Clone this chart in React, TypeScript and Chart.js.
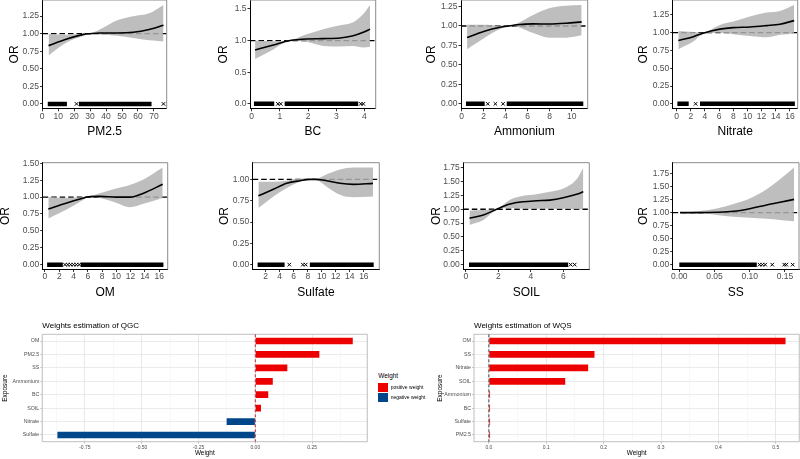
import React, { useEffect, useRef } from "react";
import { Chart, registerables } from "chart.js";
Chart.register(...registerables);

const FONT = "'Liberation Sans', Arial, Helvetica, sans-serif";
const BAND = "rgba(178,178,178,0.84)";
const RED = "#ED0000";
const BLUE = "#00468B";

// ---------------- spline panels: data ----------------
const pm25X = [4, 15, 26, 30, 36, 47, 57, 67, 76];
const pm25OR = [0.83, 0.92, 0.99, 1.0, 1.01, 1.01, 1.02, 1.06, 1.12];
const pm25Up = [1.0, 0.985, 1.0, 1.005, 1.06, 1.19, 1.25, 1.29, 1.41];
const pm25Lo = [0.69, 0.87, 0.97, 0.995, 0.99, 0.97, 0.94, 0.905, 0.89];
const pm25RugSeg = [[3.5, 15.5], [23, 68.5]];
const pm25RugPts = [21.5, 76];
const pm25XTicks = [0, 10, 20, 30, 40, 50, 60, 70];
const pm25YTicks = [0, 0.25, 0.5, 0.75, 1, 1.25];

const bcX = [0.12, 0.77, 1.36, 1.95, 2.54, 3.14, 3.6, 3.96, 4.2];
const bcOR = [0.85, 0.93, 1.0, 1.025, 1.03, 1.04, 1.075, 1.13, 1.18];
const bcUp = [0.995, 0.99, 1.005, 1.1, 1.18, 1.24, 1.29, 1.42, 1.56];
const bcLo = [0.71, 0.86, 0.995, 0.98, 0.915, 0.905, 0.915, 0.89, 0.9];
const bcRugSeg = [[0.08, 0.8], [1.17, 3.78]];
const bcRugPts = [0.93, 1.03, 3.87, 3.96];
const bcXTicks = [0, 1, 2, 3, 4];
const bcYTicks = [0, 0.5, 1, 1.5];

const amX = [0.5, 2.0, 3.5, 4.4, 5.0, 6.5, 8.0, 9.5, 10.9];
const amOR = [0.852, 0.93, 0.985, 1.003, 1.015, 1.027, 1.025, 1.035, 1.053];
const amUp = [1.015, 1.015, 1.005, 1.006, 1.03, 1.14, 1.23, 1.26, 1.27];
const amLo = [0.7, 0.84, 0.96, 1.0, 0.99, 0.91, 0.85, 0.85, 0.88];
const amRugSeg = [[0.4, 2.1], [4.1, 11.05]];
const amRugPts = [2.38, 3.07, 3.77];
const amXTicks = [0, 2, 4, 6, 8, 10];
const amYTicks = [0, 0.25, 0.5, 0.75, 1, 1.25];

const niX = [0.24, 2.35, 3.6, 6.1, 8, 10.35, 12.7, 14.6, 16.6];
const niOR = [0.89, 0.944, 0.99, 1.05, 1.072, 1.08, 1.1, 1.12, 1.17];
const niUp = [1.025, 1.01, 1.0, 1.11, 1.156, 1.227, 1.283, 1.306, 1.39];
const niLo = [0.768, 0.875, 0.98, 1.0, 0.98, 0.955, 0.936, 0.97, 0.99];
const niRugSeg = [[0.1, 1.7], [3.3, 16.7]];
const niRugPts = [2.68];
const niXTicks = [0, 2, 4, 6, 8, 10, 12, 14, 16];
const niYTicks = [0, 0.25, 0.5, 0.75, 1, 1.25];

const omX = [0.47, 3.04, 5.4, 6.1, 7.7, 10.06, 11.9, 13.8, 16.5];
const omOR = [0.825, 0.913, 0.985, 1.005, 1.01, 1.0, 1.0, 1.058, 1.19];
const omUp = [1.0, 0.985, 1.0, 1.01, 1.058, 1.13, 1.18, 1.26, 1.437];
const omLo = [0.684, 0.815, 0.96, 1.0, 0.985, 0.913, 0.85, 0.9, 0.985];
const omRugSeg = [[0.3, 2.5], [5.0, 16.6]];
const omRugPts = [2.8, 3.2, 3.6, 4.0, 4.4, 4.8];
const omXTicks = [0, 2, 4, 6, 8, 10, 12, 14, 16];
const omYTicks = [0, 0.25, 0.5, 0.75, 1, 1.25, 1.5];

const suX = [0.96, 3.1, 5.0, 6.9, 8.3, 9.0, 10.7, 12.6, 14.5, 17.3];
const suOR = [0.807, 0.884, 0.954, 0.985, 1.0, 1.0, 0.985, 0.954, 0.942, 0.954];
const suUp = [0.973, 0.973, 0.985, 1.01, 1.005, 1.002, 1.06, 1.116, 1.139, 1.139];
const suLo = [0.664, 0.8, 0.9, 0.973, 0.995, 0.998, 0.915, 0.819, 0.79, 0.8];
const suRugSeg = [[0.85, 4.7], [8.3, 17.4]];
const suRugPts = [5.37, 7.3, 7.7];
const suXTicks = [2, 4, 6, 8, 10, 12, 14, 16];
const suYTicks = [0, 0.25, 0.5, 0.75, 1];

const soX = [0.23, 1.09, 1.9, 2.72, 3.54, 4.36, 5.18, 6.0, 6.82, 7.23];
const soOR = [0.836, 0.896, 1.0, 1.093, 1.135, 1.153, 1.165, 1.207, 1.27, 1.314];
const soUp = [0.974, 0.986, 1.005, 1.17, 1.242, 1.272, 1.314, 1.374, 1.54, 1.75];
const soLo = [0.717, 0.806, 0.99, 1.02, 1.01, 1.01, 1.01, 1.01, 1.0, 1.0];
const soRugSeg = [[0.2, 6.3]];
const soRugPts = [6.45, 6.7];
const soXTicks = [0, 2, 4, 6];
const soYTicks = [0, 0.25, 0.5, 0.75, 1, 1.25, 1.5, 1.75];

const ssX = [0.001, 0.029, 0.053, 0.077, 0.1, 0.124, 0.143, 0.163];
const ssOR = [1.0, 1.0, 1.006, 1.025, 1.075, 1.146, 1.197, 1.254];
const ssUp = [1.0, 1.03, 1.08, 1.165, 1.27, 1.45, 1.64, 1.865];
const ssLo = [1.0, 0.99, 0.955, 0.92, 0.9, 0.88, 0.86, 0.834];
const ssRugSeg = [[0.0, 0.11]];
const ssRugPts = [0.114, 0.118, 0.122, 0.132, 0.149, 0.152, 0.161];
const ssXTicks = [0, 0.05, 0.1, 0.15];
const ssYTicks = [0, 0.25, 0.5, 0.75, 1, 1.25, 1.5, 1.75];

// ---------------- weights: data ----------------
const qgcLabels = ["OM", "PM2.5", "SS", "Ammonium", "BC", "SOIL", "Nitrate", "Sulfate"];
const qgcWeights = [0.429, 0.282, 0.141, 0.077, 0.057, 0.025, -0.126, -0.871];
const qgcMajor = [-0.75, -0.5, -0.25, 0, 0.25];
const qgcMinor = [-0.875, -0.625, -0.375, -0.125, 0.125, 0.375];

const wqsLabels = ["OM", "SS", "Nitrate", "SOIL", "Ammonium", "BC", "Sulfate", "PM2.5"];
const wqsWeights = [0.517, 0.184, 0.173, 0.133, 0.002, 0.002, 0.002, 0.002];
const wqsMajor = [0, 0.1, 0.2, 0.3, 0.4, 0.5];
const wqsMinor = [0.05, 0.15, 0.25, 0.35, 0.45];

// ---------------- layout ----------------
const PAD = 10;
const ROW1 = { t: 0, b: 108.8, xtY: 131.7 };
const ROW2 = { t: 162.7, b: 269.5, xtY: 292.5 };

const panels = [
  { name: "PM2.5", x: pm25X, or: pm25OR, up: pm25Up, lo: pm25Lo, seg: pm25RugSeg, pts: pm25RugPts, xt: pm25XTicks, yt: pm25YTicks, xd: 0, yd: 2, xr: [0.2, 78], yr: [-0.07, 1.48], row: ROW1, l: 42.5, r: 166.7, orX: 15 },
  { name: "BC", x: bcX, or: bcOR, up: bcUp, lo: bcLo, seg: bcRugSeg, pts: bcRugPts, xt: bcXTicks, yt: bcYTicks, xd: 0, yd: 1, xr: [-0.06, 4.4], yr: [-0.078, 1.64], row: ROW1, l: 250, r: 375.7, orX: 223.3 },
  { name: "Ammonium", x: amX, or: amOR, up: amUp, lo: amLo, seg: amRugSeg, pts: amRugPts, xt: amXTicks, yt: amYTicks, xd: 0, yd: 2, xr: [-0.05, 11.45], yr: [-0.064, 1.334], row: ROW1, l: 461, r: 587.7, orX: 431.7 },
  { name: "Nitrate", x: niX, or: niOR, up: niUp, lo: niLo, seg: niRugSeg, pts: niRugPts, xt: niXTicks, yt: niYTicks, xd: 0, yd: 2, xr: [-0.56, 17.1], yr: [-0.07, 1.46], row: ROW1, l: 672.7, r: 797.7, orX: 643.3 },
  { name: "OM", x: omX, or: omOR, up: omUp, lo: omLo, seg: omRugSeg, pts: omRugPts, xt: omXTicks, yt: omYTicks, xd: 0, yd: 2, xr: [-0.32, 17.2], yr: [-0.072, 1.509], row: ROW2, l: 42.7, r: 167.7, orX: 5.5 },
  { name: "Sulfate", x: suX, or: suOR, up: suUp, lo: suLo, seg: suRugSeg, pts: suRugPts, xt: suXTicks, yt: suYTicks, xd: 0, yd: 2, xr: [0.15, 18.2], yr: [-0.057, 1.196], row: ROW2, l: 252.7, r: 379.3, orX: 225 },
  { name: "SOIL", x: soX, or: soOR, up: soUp, lo: soLo, seg: soRugSeg, pts: soRugPts, xt: soXTicks, yt: soYTicks, xd: 0, yd: 2, xr: [-0.15, 7.6], yr: [-0.088, 1.84], row: ROW2, l: 463.3, r: 589.3, orX: 436.7 },
  { name: "SS", x: ssX, or: ssOR, up: ssUp, lo: ssLo, seg: ssRugSeg, pts: ssRugPts, xt: ssXTicks, yt: ssYTicks, xd: 2, yd: 2, xr: [-0.0094, 0.17], yr: [-0.093, 1.958], row: ROW2, l: 672.7, r: 799, orX: 643.3 },
];

function geomFor(rect: any, wy: number, hx: number, topExtra: number) {
  const L = rect.l - wy, T = rect.t - topExtra, R = rect.r, B = rect.b + hx;
  const left = Math.floor(L - PAD), top = Math.floor(T - PAD);
  const right = Math.ceil(R + PAD), bottom = Math.ceil(B + PAD);
  return {
    left, top, width: right - left, height: bottom - top, wy, hx,
    pad: { left: L - left, top: T - top, right: right - R, bottom: bottom - B },
  };
}

const framePlugin = {
  id: "frame",
  afterDatasetsDraw(chart: any, _a: any, opts: any) {
    const { left, top, right, bottom } = chart.chartArea;
    const ctx = chart.ctx;
    ctx.save();
    ctx.strokeStyle = opts.color;
    ctx.lineWidth = opts.width;
    ctx.beginPath();
    if (opts.all) {
      ctx.rect(left, top, right - left, bottom - top);
    } else {
      ctx.moveTo(left, top);
      ctx.lineTo(right, top);
      ctx.lineTo(right, bottom);
    }
    ctx.stroke();
    ctx.restore();
  },
};

const zeroPlugin = {
  id: "zeroLine",
  afterDatasetsDraw(chart: any, _a: any, opts: any) {
    const { top, bottom } = chart.chartArea;
    const x = chart.scales.x.getPixelForValue(0);
    const ctx = chart.ctx;
    ctx.save();
    ctx.strokeStyle = opts.color;
    ctx.lineWidth = 1;
    ctx.setLineDash([3, 2]);
    ctx.beginPath();
    ctx.moveTo(x, top);
    ctx.lineTo(x, bottom);
    ctx.stroke();
    ctx.restore();
  },
};

function splineConfig(p: any, g: any) {
  const curve = p.x.map((x: number, i: number) => ({ x, y: p.or[i] }));
  const upper = p.x.map((x: number, i: number) => ({ x, y: p.up[i] }));
  const lower = p.x.map((x: number, i: number) => ({ x, y: p.lo[i] }));
  const ref = [{ x: p.xr[0], y: 1 }, { x: p.xr[1], y: 1 }];
  const rug: any[] = [];
  p.seg.forEach((s: number[]) => {
    rug.push({ x: s[0], y: 0 }, { x: s[1], y: 0 }, { x: s[1], y: null });
  });
  const rugPts = p.pts.map((x: number) => ({ x, y: 0 }));
  const TRANSP = "rgba(0,0,0,0)";
  return {
    type: "line",
    data: {
      datasets: [
        { data: curve, borderColor: "#000", borderWidth: 1.6, pointRadius: 0, cubicInterpolationMode: "monotone", fill: false, order: 0 },
        { data: upper, borderColor: TRANSP, borderWidth: 1, pointRadius: 0, cubicInterpolationMode: "monotone", fill: false, order: 2 },
        { data: lower, borderColor: TRANSP, borderWidth: 1, pointRadius: 0, cubicInterpolationMode: "monotone", fill: 1, backgroundColor: BAND, order: 2 },
        { data: ref, borderColor: "#000", borderWidth: 1.3, borderDash: [5.5, 3], pointRadius: 0, fill: false, order: 3 },
        { data: rug, borderColor: "#000", borderWidth: 4.5, borderCapStyle: "butt", pointRadius: 0, spanGaps: false, fill: false, order: 1 },
        { data: rugPts, showLine: false, pointStyle: "crossRot", pointRadius: 2.5, borderColor: "#000", borderWidth: 1, order: 1 },
      ],
    },
    plugins: [framePlugin],
    options: {
      responsive: false,
      animation: false,
      events: [],
      layout: { padding: g.pad, autoPadding: false },
      plugins: {
        legend: { display: false },
        tooltip: { enabled: false },
        frame: { color: "#8c8c8c", width: 1, all: false },
      },
      scales: {
        x: {
          type: "linear",
          min: p.xr[0],
          max: p.xr[1],
          afterBuildTicks: (s: any) => {
            s.ticks = p.xt.map((v: number) => ({ value: v }));
          },
          afterFit: (s: any) => {
            s.height = g.hx;
            s.paddingLeft = 0;
            s.paddingRight = 0;
          },
          grid: { display: true, drawOnChartArea: false, drawTicks: true, tickLength: 2.5, tickColor: "#333", lineWidth: 1 },
          border: { display: true, color: "#000", width: 1 },
          ticks: {
            font: { family: FONT, size: 8.5 },
            color: "#4d4d4d",
            padding: 0,
            maxRotation: 0,
            autoSkip: false,
            callback: (v: any) => Number(v).toFixed(p.xd),
          },
          title: { display: true, text: p.name, font: { family: FONT, size: 12 }, color: "#000", padding: { top: 0, bottom: 1 } },
        },
        y: {
          type: "linear",
          min: p.yr[0],
          max: p.yr[1],
          afterBuildTicks: (s: any) => {
            s.ticks = p.yt.map((v: number) => ({ value: v }));
          },
          afterFit: (s: any) => {
            s.width = g.wy;
            s.paddingTop = 0;
            s.paddingBottom = 0;
          },
          grid: { display: true, drawOnChartArea: false, drawTicks: true, tickLength: 2.5, tickColor: "#333", lineWidth: 1 },
          border: { display: true, color: "#000", width: 1 },
          ticks: {
            font: { family: FONT, size: 8.5 },
            color: "#4d4d4d",
            padding: 1,
            autoSkip: false,
            callback: (v: any) => Number(v).toFixed(p.yd),
          },
          title: { display: true, text: "OR", font: { family: FONT, size: 12 }, color: "#000", padding: { top: 1, bottom: 0 } },
        },
      },
    },
  };
}

function isIn(list: number[], v: number) {
  return list.some((m) => Math.abs(m - v) < 1e-9);
}

function barConfig(b: any, g: any) {
  const ticks = [...b.major, ...b.minor].sort((a: number, c: number) => a - c);
  return {
    type: "bar",
    data: {
      labels: b.labels,
      datasets: [
        {
          data: b.values,
          backgroundColor: b.values.map((v: number) => (v >= 0 ? RED : BLUE)),
          borderWidth: 0,
          barPercentage: 0.5,
          categoryPercentage: 1,
        },
      ],
    },
    plugins: [framePlugin, zeroPlugin],
    options: {
      indexAxis: "y",
      responsive: false,
      animation: false,
      events: [],
      layout: { padding: g.pad, autoPadding: false },
      plugins: {
        legend: { display: false },
        tooltip: { enabled: false },
        title: {
          display: true,
          text: b.title,
          align: "start",
          fullSize: false,
          color: "#000",
          font: { family: FONT, size: 8, weight: "normal" },
          padding: { top: 0, bottom: 3.5 },
        },
        frame: { color: "#cccccc", width: 1.3, all: true },
        zeroLine: { color: b.zeroColor },
      },
      scales: {
        x: {
          type: "linear",
          min: b.xr[0],
          max: b.xr[1],
          afterBuildTicks: (s: any) => {
            s.ticks = ticks.map((v: number) => ({ value: v }));
          },
          afterFit: (s: any) => {
            s.height = g.hx;
            s.paddingLeft = 0;
            s.paddingRight = 0;
          },
          grid: {
            display: true,
            drawOnChartArea: true,
            drawTicks: true,
            tickLength: 2,
            color: (c: any) => (c.tick && isIn(b.major, c.tick.value) ? "#e3e3e3" : "#f1f1f1"),
            lineWidth: (c: any) => (c.tick && isIn(b.major, c.tick.value) ? 0.8 : 0.5),
            tickColor: (c: any) => (c.tick && isIn(b.major, c.tick.value) ? "#b3b3b3" : "rgba(0,0,0,0)"),
            tickWidth: 0.8,
          },
          border: { display: false },
          ticks: {
            font: { family: FONT, size: 5 },
            color: "#4d4d4d",
            padding: 0.5,
            maxRotation: 0,
            autoSkip: false,
            callback: (v: any) => (isIn(b.major, Number(v)) ? Number(v).toFixed(b.xd) : ""),
          },
          title: { display: true, text: "Weight", font: { family: FONT, size: 6.4 }, color: "#000", padding: { top: 0, bottom: 1 } },
        },
        y: {
          type: "category",
          afterFit: (s: any) => {
            s.width = g.wy;
            s.paddingTop = 0;
            s.paddingBottom = 0;
          },
          grid: { display: true, offset: false, drawOnChartArea: true, drawTicks: true, tickLength: 2, color: "#e6e6e6", lineWidth: 0.8, tickColor: "#b3b3b3" },
          border: { display: false },
          ticks: { font: { family: FONT, size: 5.3 }, color: "#4d4d4d", padding: 1, autoSkip: false },
          title: { display: true, text: "Exposure", font: { family: FONT, size: 6.5 }, color: "#000", padding: { top: 1, bottom: 0 } },
        },
      },
    },
  };
}

const bars = [
  { title: "Weights estimation of QGC", labels: qgcLabels, values: qgcWeights, major: qgcMajor, minor: qgcMinor, xd: 2, xr: [-0.9375, 0.493], zeroColor: "#b03030", rect: { l: 42.3, t: 334.3, r: 367.3, b: 441.7 }, exX: 5, wtY: 453.3 },
  { title: "Weights estimation of WQS", labels: wqsLabels, values: wqsWeights, major: wqsMajor, minor: wqsMinor, xd: 1, xr: [-0.026, 0.541], zeroColor: "#404040", rect: { l: 474, t: 334.3, r: 799.3, b: 441.7 }, exX: 440, wtY: 453.3 },
];

function ChartBox({ geom, build }: { geom: any; build: () => any }) {
  const ref = useRef<HTMLCanvasElement>(null);
  useEffect(() => {
    const c = new Chart(ref.current as HTMLCanvasElement, build());
    return () => c.destroy();
  }, []);
  return (
    <canvas
      ref={ref}
      width={geom.width}
      height={geom.height}
      style={{ position: "absolute", left: geom.left, top: geom.top, width: geom.width, height: geom.height }}
    />
  );
}

function Legend() {
  const txt: any = { position: "absolute", fontFamily: FONT, color: "#000", whiteSpace: "nowrap" };
  return (
    <>
      <div style={{ ...txt, left: 378.3, top: 372.3, fontSize: 6.4, lineHeight: "7px" }}>Weight</div>
      <div style={{ position: "absolute", left: 377.7, top: 382.7, width: 10, height: 9, background: RED }} />
      <div style={{ position: "absolute", left: 377.7, top: 393.3, width: 10, height: 9, background: BLUE }} />
      <div style={{ ...txt, left: 390.7, top: 384.5, fontSize: 5, lineHeight: "5px" }}>positive weight</div>
      <div style={{ ...txt, left: 390.7, top: 395.3, fontSize: 5, lineHeight: "5px" }}>negative weight</div>
    </>
  );
}

export default function App() {
  return (
    <div style={{ position: "fixed", left: 0, top: 0, width: 800, height: 459, overflow: "hidden", background: "#fff" }}>
      {panels.map((p, i) => {
        const rect = { l: p.l, r: p.r, t: p.row.t, b: p.row.b };
        const wy = rect.l - (p.orX - 8.2);
        const hx = p.row.xtY + 8.2 - rect.b;
        const g = geomFor(rect, wy, hx, 0);
        return <ChartBox key={"p" + i} geom={g} build={() => splineConfig(p, g)} />;
      })}
      {bars.map((b, i) => {
        const wy = b.rect.l - (b.exX - 4.9);
        const hx = b.wtY + 4.84 - b.rect.b;
        const g = geomFor(b.rect, wy, hx, 13.1);
        return <ChartBox key={"b" + i} geom={g} build={() => barConfig(b, g)} />;
      })}
      <Legend />
    </div>
  );
}
